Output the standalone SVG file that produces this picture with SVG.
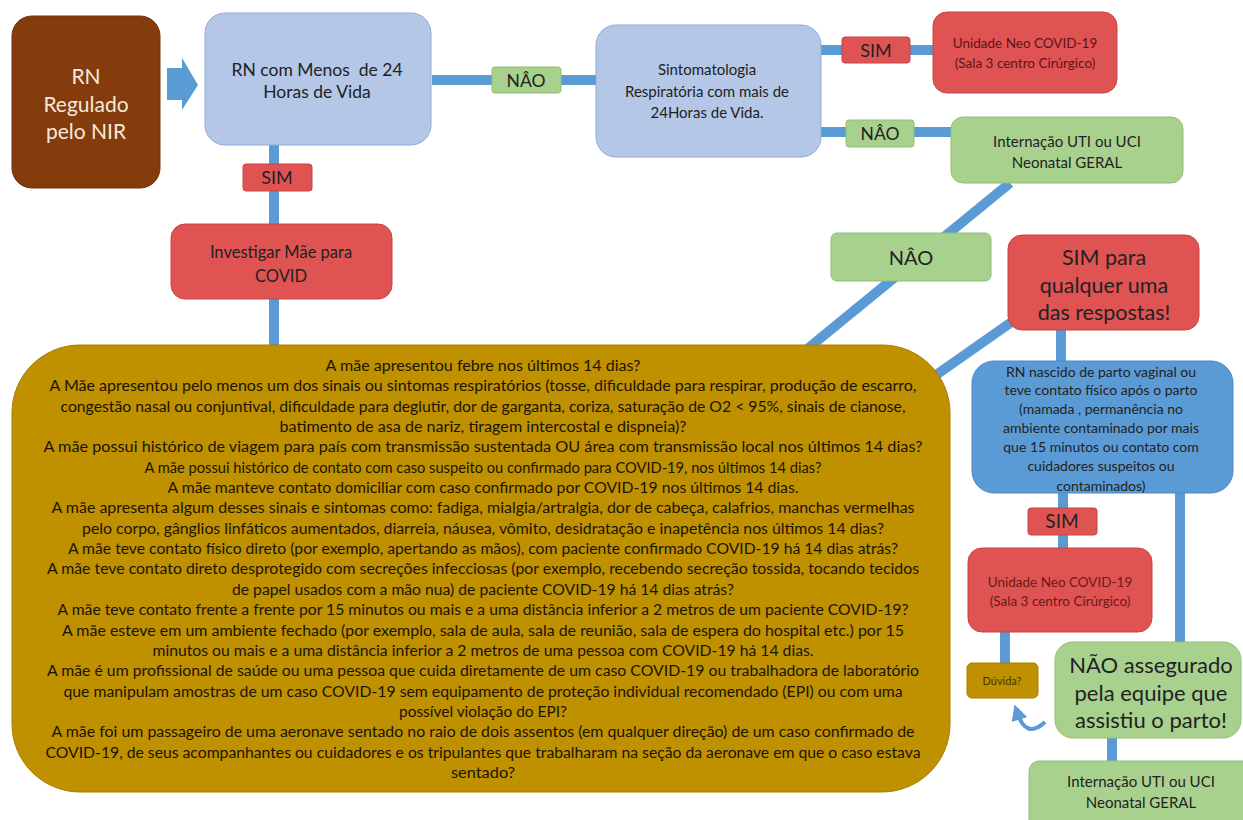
<svg xmlns="http://www.w3.org/2000/svg" width="1243" height="820" viewBox="0 0 1243 820">
<style>
.c{stroke:#5b9bd5;stroke-width:10;fill:none}
.t{font-family:Lato,"Open Sans","Liberation Sans",sans-serif;text-anchor:middle;fill:#222}
.lb{fill:#b4c7e7;stroke:#8faadc;stroke-width:1}
.red{fill:#e05353;stroke:#c94444;stroke-width:1}
.grn{fill:#a9d18e;stroke:#8fbf74;stroke-width:1}
.gold{fill:#bf9000;stroke:#a67d00;stroke-width:1}
.blue{fill:#5b9bd5;stroke:#4f8ac4;stroke-width:1}
.q{font-size:14.5px;fill:#1a1400}
</style>
<defs>
<marker id="ah" viewBox="0 0 10 10" refX="5" refY="5" markerWidth="4" markerHeight="4" orient="auto">
<path d="M0 0 L10 5 L0 10 z" fill="#5b9bd5"/>
</marker>
</defs>
<rect width="1243" height="820" fill="#ffffff"/>
<g id="connectors">
<path class="c" d="M432 80 H596"/>
<path class="c" d="M821 50 H933"/>
<path class="c" d="M821 132 H951"/>
<path class="c" d="M274 145 V345"/>
<path class="c" d="M1010 183 L806 350"/>
<path class="c" d="M1013 321 L926 382"/>
<path class="c" d="M1061 330 V361"/>
<path class="c" d="M1063 493 V548"/>
<path class="c" d="M1180 493 V642"/>
<path class="c" d="M1005 632 V663"/>
<path class="c" d="M1112 738 V761"/>
<path d="M1045 722 Q1026 740 1017 712" stroke="#5b9bd5" stroke-width="4" fill="none" marker-end="url(#ah)"/>
<polygon points="167,68 182,68 182,58 198,85 182,110 182,100 167,100" fill="#5b9bd5"/>
</g>
<g id="n_nir">
<rect x="12" y="16" width="148" height="172" rx="20" fill="#843c0c" stroke="#6e320a"/>
<text class="t" x="86" y="84" font-size="21" style="fill:#f6e9dc">RN</text>
<text class="t" x="86" y="112" font-size="21" style="fill:#f6e9dc">Regulado</text>
<text class="t" x="86" y="139" font-size="21" style="fill:#f6e9dc">pelo NIR</text>
</g>
<g id="n_menos24">
<rect class="lb" x="205" y="13" width="226" height="132" rx="20"/>
<text class="t" x="317" y="76" font-size="17.5" style="white-space:pre">RN com Menos  de 24</text>
<text class="t" x="317" y="98" font-size="17.5">Horas de Vida</text>
</g>
<g id="l_nao1">
<rect class="grn" x="492" y="67" width="69" height="26" rx="3"/>
<text class="t" x="526" y="86.5" font-size="17.5">NÂO</text>
</g>
<g id="n_sinto">
<rect class="lb" x="596" y="25" width="225" height="132" rx="20"/>
<text class="t" x="707" y="75" font-size="15">Sintomatologia</text>
<text class="t" x="707" y="97" font-size="15">Respiratória com mais de</text>
<text class="t" x="707" y="118" font-size="15">24Horas de Vida.</text>
</g>
<g id="l_sim1">
<rect class="red" x="842" y="37" width="68" height="26" rx="3"/>
<text class="t" x="876" y="56.5" font-size="18">SIM</text>
</g>
<g id="n_neo1">
<rect class="red" x="933" y="12" width="184" height="81" rx="14"/>
<text class="t" x="1025" y="48" font-size="13.5" style="fill:#5e1414">Unidade Neo COVID-19</text>
<text class="t" x="1025" y="68" font-size="13.5" style="fill:#5e1414">(Sala 3 centro Cirúrgico)</text>
</g>
<g id="l_nao2">
<rect class="grn" x="846" y="120" width="68" height="27" rx="3"/>
<text class="t" x="880" y="140" font-size="17.5">NÂO</text>
</g>
<g id="n_uti1">
<rect class="grn" x="951" y="117" width="232" height="66" rx="12"/>
<text class="t" x="1067" y="147" font-size="15">Internação UTI ou UCI</text>
<text class="t" x="1067" y="168" font-size="15">Neonatal GERAL</text>
</g>
<g id="l_sim2">
<rect class="red" x="243" y="164" width="69" height="27" rx="3"/>
<text class="t" x="277" y="184" font-size="18">SIM</text>
</g>
<g id="n_invest">
<rect class="red" x="171" y="224" width="221" height="75" rx="14"/>
<text class="t" x="281" y="258" font-size="16.5">Investigar Mãe para</text>
<text class="t" x="281" y="282" font-size="16.5">COVID</text>
</g>
<g id="n_nao_big">
<rect class="grn" x="831" y="233" width="160" height="48" rx="6"/>
<text class="t" x="911" y="265" font-size="20">NÂO</text>
</g>
<g id="n_simpara">
<rect class="red" x="1008" y="235" width="191" height="95" rx="14"/>
<text class="t" x="1104" y="265" font-size="21.5">SIM para</text>
<text class="t" x="1104" y="293" font-size="21.5">qualquer uma</text>
<text class="t" x="1104" y="320" font-size="21.5">das respostas!</text>
</g>
<g id="n_perguntas">
<rect class="gold" x="12" y="345" width="938" height="447" rx="68"/>
<text class="t q" x="483" y="371" textLength="315" lengthAdjust="spacingAndGlyphs">A mãe apresentou febre nos últimos 14 dias?</text>
<text class="t q" x="483" y="391" textLength="867" lengthAdjust="spacingAndGlyphs">A Mãe apresentou pelo menos um dos sinais ou sintomas respiratórios (tosse, dificuldade para respirar, produção de escarro,</text>
<text class="t q" x="483" y="412" textLength="845" lengthAdjust="spacingAndGlyphs">congestão nasal ou conjuntival, dificuldade para deglutir, dor de garganta, coriza, saturação de O2 &lt; 95%, sinais de cianose,</text>
<text class="t q" x="483" y="432" textLength="407" lengthAdjust="spacingAndGlyphs">batimento de asa de nariz, tiragem intercostal e dispneia)?</text>
<text class="t q" x="483" y="452" textLength="879" lengthAdjust="spacingAndGlyphs">A mãe possui histórico de viagem para país com transmissão sustentada OU área com transmissão local nos últimos 14 dias?</text>
<text class="t q" x="483" y="473" textLength="677" lengthAdjust="spacingAndGlyphs">A mãe possui histórico de contato com caso suspeito ou confirmado para COVID-19, nos últimos 14 dias?</text>
<text class="t q" x="483" y="493" textLength="631" lengthAdjust="spacingAndGlyphs">A mãe manteve contato domiciliar com caso confirmado por COVID-19 nos últimos 14 dias.</text>
<text class="t q" x="483" y="513" textLength="863" lengthAdjust="spacingAndGlyphs">A mãe apresenta algum desses sinais e sintomas como: fadiga, mialgia/artralgia, dor de cabeça, calafrios, manchas vermelhas</text>
<text class="t q" x="483" y="534" textLength="802" lengthAdjust="spacingAndGlyphs">pelo corpo, gânglios linfáticos aumentados, diarreia, náusea, vômito, desidratação e inapetência nos últimos 14 dias?</text>
<text class="t q" x="483" y="554" textLength="830" lengthAdjust="spacingAndGlyphs">A mãe teve contato físico direto (por exemplo, apertando as mãos), com paciente confirmado COVID-19 há 14 dias atrás?</text>
<text class="t q" x="483" y="574" textLength="872" lengthAdjust="spacingAndGlyphs">A mãe teve contato direto desprotegido com secreções infecciosas (por exemplo, recebendo secreção tossida, tocando tecidos</text>
<text class="t q" x="483" y="595" textLength="502" lengthAdjust="spacingAndGlyphs">de papel usados com a mão nua) de paciente COVID-19 há 14 dias atrás?</text>
<text class="t q" x="483" y="615" textLength="851" lengthAdjust="spacingAndGlyphs">A mãe teve contato frente a frente por 15 minutos ou mais e a uma distância inferior a 2 metros de um paciente COVID-19?</text>
<text class="t q" x="483" y="636" textLength="842" lengthAdjust="spacingAndGlyphs">A mãe esteve em um ambiente fechado (por exemplo, sala de aula, sala de reunião, sala de espera do hospital etc.) por 15</text>
<text class="t q" x="483" y="656" textLength="661" lengthAdjust="spacingAndGlyphs">minutos ou mais e a uma distância inferior a 2 metros de uma pessoa com COVID-19 há 14 dias.</text>
<text class="t q" x="483" y="676" textLength="872" lengthAdjust="spacingAndGlyphs">A mãe é um profissional de saúde ou uma pessoa que cuida diretamente de um caso COVID-19 ou trabalhadora de laboratório</text>
<text class="t q" x="483" y="697" textLength="839" lengthAdjust="spacingAndGlyphs">que manipulam amostras de um caso COVID-19 sem equipamento de proteção individual recomendado (EPI) ou com uma</text>
<text class="t q" x="483" y="717" textLength="168" lengthAdjust="spacingAndGlyphs">possível violação do EPI?</text>
<text class="t q" x="483" y="737" textLength="863" lengthAdjust="spacingAndGlyphs">A mãe foi um passageiro de uma aeronave sentado no raio de dois assentos (em qualquer direção) de um caso confirmado de</text>
<text class="t q" x="483" y="758" textLength="875" lengthAdjust="spacingAndGlyphs">COVID-19, de seus acompanhantes ou cuidadores e os tripulantes que trabalharam na seção da aeronave em que o caso estava</text>
<text class="t q" x="483" y="778" textLength="64" lengthAdjust="spacingAndGlyphs">sentado?</text>
</g>
<g id="n_parto">
<rect class="blue" x="972" y="361" width="261" height="132" rx="22"/>
<text class="t" x="1101" y="377" font-size="14">RN nascido de parto vaginal ou</text>
<text class="t" x="1101" y="395" font-size="14">teve contato físico após o parto</text>
<text class="t" x="1101" y="414" font-size="14">(mamada , permanência no</text>
<text class="t" x="1101" y="433" font-size="14">ambiente contaminado por mais</text>
<text class="t" x="1101" y="452" font-size="14">que 15 minutos ou contato com</text>
<text class="t" x="1101" y="471" font-size="14">cuidadores suspeitos ou</text>
<text class="t" x="1101" y="491" font-size="14">contaminados)</text>
</g>
<g id="l_sim3">
<rect class="red" x="1028" y="508" width="69" height="27" rx="3"/>
<text class="t" x="1062" y="528" font-size="19">SIM</text>
</g>
<g id="n_neo2">
<rect class="red" x="968" y="548" width="184" height="84" rx="14"/>
<text class="t" x="1060" y="587" font-size="13.5" style="fill:#6a1a1a">Unidade Neo COVID-19</text>
<text class="t" x="1060" y="606" font-size="13.5" style="fill:#6a1a1a">(Sala 3 centro Cirúrgico)</text>
</g>
<g id="n_duvida">
<rect class="gold" x="967" y="663" width="71" height="35" rx="5"/>
<text class="t" x="1002" y="685" font-size="11" style="fill:#4a3500">Dúvida?</text>
</g>
<g id="n_assegurado">
<rect class="grn" x="1055" y="642" width="186" height="96" rx="18"/>
<text class="t" x="1151" y="673" font-size="22">NÃO assegurado</text>
<text class="t" x="1151" y="701" font-size="22">pela equipe que</text>
<text class="t" x="1151" y="728" font-size="22">assistiu o parto!</text>
</g>
<g id="n_uti2">
<rect class="grn" x="1029" y="761" width="226" height="70" rx="10"/>
<text class="t" x="1141" y="787" font-size="15">Internação UTI ou UCI</text>
<text class="t" x="1141" y="808" font-size="15">Neonatal GERAL</text>
</g>
</svg>
